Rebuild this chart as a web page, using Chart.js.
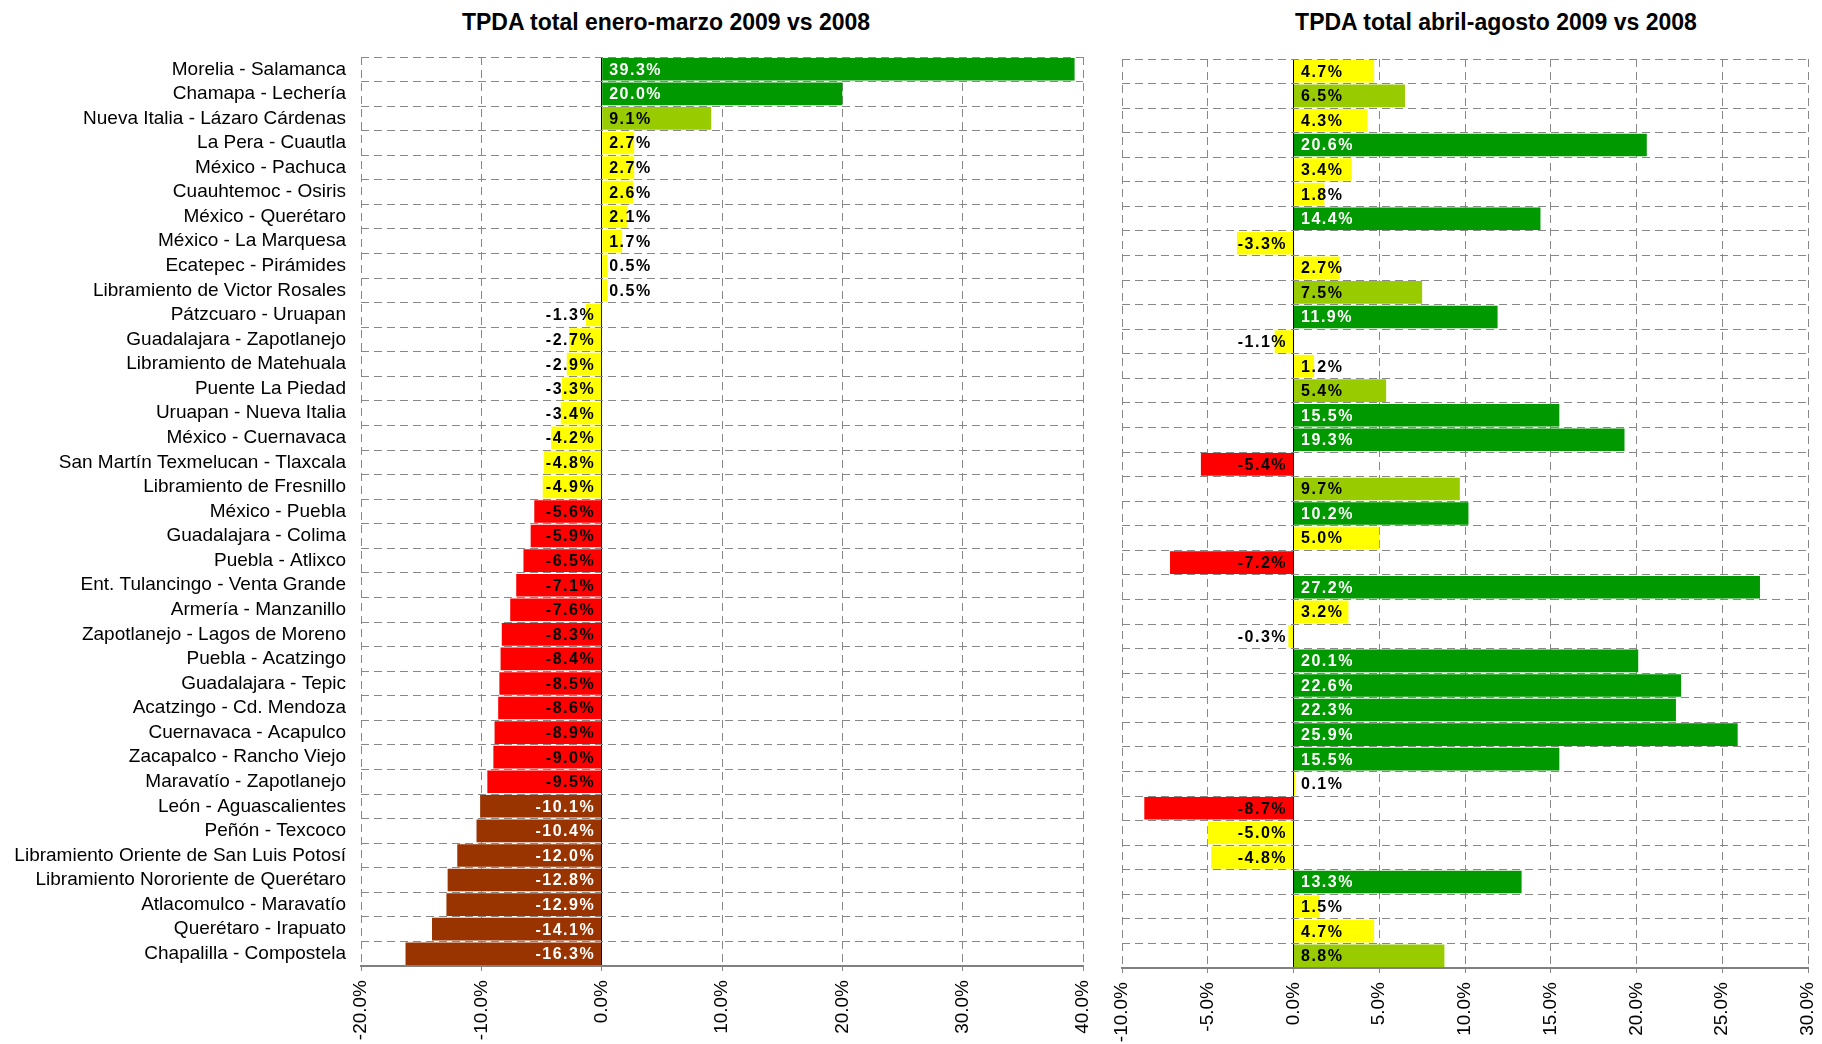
<!DOCTYPE html>
<html>
<head>
<meta charset="utf-8">
<title>TPDA total 2009 vs 2008</title>
<script src="https://cdn.jsdelivr.net/npm/chart.js"></script>
<style>
    body { margin: 0; background: #fff; }
    .page { position: relative; width: 1822px; height: 1044px; overflow: hidden; }
    .title {
        position: absolute; top: 11px; transform: translateX(-50%);
        font: bold 23px "Liberation Sans", Arial, sans-serif; line-height: 23px;
        white-space: nowrap; color: #000;
    }
    .chart-box { position: absolute; top: 0; height: 1044px; }
</style>
</head>
<body>
<div class="page">
    <div class="title" style="left:666px">TPDA total enero-marzo 2009 vs 2008</div>
    <div class="title" style="left:1496px">TPDA total abril-agosto 2009 vs 2008</div>
    <div class="chart-box" style="left:0; width:1100px"><canvas id="chart-left"></canvas></div>
    <div class="chart-box" style="left:1100px; width:722px"><canvas id="chart-right"></canvas></div>
</div>
<script>
const categories = [
    'Morelia - Salamanca', 'Chamapa - Lechería', 'Nueva Italia - Lázaro Cárdenas', 'La Pera - Cuautla',
    'México - Pachuca', 'Cuauhtemoc - Osiris', 'México - Querétaro', 'México - La Marquesa',
    'Ecatepec - Pirámides', 'Libramiento de Victor Rosales', 'Pátzcuaro - Uruapan', 'Guadalajara - Zapotlanejo',
    'Libramiento de Matehuala', 'Puente La Piedad', 'Uruapan - Nueva Italia', 'México - Cuernavaca',
    'San Martín Texmelucan - Tlaxcala', 'Libramiento de Fresnillo', 'México - Puebla', 'Guadalajara - Colima',
    'Puebla - Atlixco', 'Ent. Tulancingo - Venta Grande', 'Armería - Manzanillo', 'Zapotlanejo - Lagos de Moreno',
    'Puebla - Acatzingo', 'Guadalajara - Tepic', 'Acatzingo - Cd. Mendoza', 'Cuernavaca - Acapulco',
    'Zacapalco - Rancho Viejo', 'Maravatío - Zapotlanejo', 'León - Aguascalientes', 'Peñón - Texcoco',
    'Libramiento Oriente de San Luis Potosí', 'Libramiento Nororiente de Querétaro', 'Atlacomulco - Maravatío',
    'Querétaro - Irapuato', 'Chapalilla - Compostela'
];

const eneroMarzo = [
    39.3, 20.0, 9.1, 2.7, 2.7, 2.6, 2.1, 1.7, 0.5, 0.5,
    -1.3, -2.7, -2.9, -3.3, -3.4, -4.2, -4.8, -4.9, -5.6, -5.9,
    -6.5, -7.1, -7.6, -8.3, -8.4, -8.5, -8.6, -8.9, -9.0, -9.5,
    -10.1, -10.4, -12.0, -12.8, -12.9, -14.1, -16.3
];

const abrilAgosto = [
    4.7, 6.5, 4.3, 20.6, 3.4, 1.8, 14.4, -3.3, 2.7, 7.5,
    11.9, -1.1, 1.2, 5.4, 15.5, 19.3, -5.4, 9.7, 10.2, 5.0,
    -7.2, 27.2, 3.2, -0.3, 20.1, 22.6, 22.3, 25.9, 15.5, 0.1,
    -8.7, -5.0, -4.8, 13.3, 1.5, 4.7, 8.8
];

const leftTicks = [-20, -10, 0, 10, 20, 30, 40];
const rightTicks = [-10, -5, 0, 5, 10, 15, 20, 25, 30];

const GRID = '#888888';
const FONT = '"Liberation Sans", Arial, sans-serif';

function barColor(v) {
    if (v >= 10) return '#009900';
    if (v > 5) return '#99CC00';
    if (v >= -5) return '#FFFF00';
    if (v >= -10) return '#FF0000';
    return '#993300';
}

function labelColor(v) {
    return (v >= 10 || v < -10) ? '#FFFFFF' : '#000000';
}

// value labels drawn next to the zero line, inside the bars
const barLabels = {
    id: 'barLabels',
    afterDatasetsDraw(chart) {
        const ctx = chart.ctx;
        const values = chart.data.datasets[0].data;
        ctx.save();
        ctx.font = 'bold 16px ' + FONT;
        ctx.letterSpacing = '1.5px';
        ctx.textBaseline = 'middle';
        chart.getDatasetMeta(0).data.forEach((bar, i) => {
            const v = values[i];
            const text = v.toFixed(1) + '%';
            ctx.fillStyle = labelColor(v);
            if (v >= 0) {
                ctx.textAlign = 'left';
                ctx.fillText(text, bar.base + 7, bar.y + 1);
            } else {
                ctx.textAlign = 'right';
                ctx.fillText(text, bar.base - 6, bar.y + 1);
            }
        });
        ctx.restore();
    }
};

function makeChart(id, values, ticks, cfg) {
    return new Chart(document.getElementById(id), {
        type: 'bar',
        data: {
            labels: categories,
            datasets: [{
                data: values,
                backgroundColor: values.map(barColor),
                borderWidth: 0,
                barPercentage: 0.92,
                categoryPercentage: 1
            }]
        },
        plugins: [barLabels],
        options: {
            indexAxis: 'y',
            responsive: true,
            maintainAspectRatio: false,
            animation: false,
            layout: { padding: { top: cfg.top, right: cfg.right, left: 0, bottom: 0 } },
            plugins: { legend: { display: false }, tooltip: { enabled: false }, title: { display: false } },
            scales: {
                x: {
                    type: 'linear',
                    min: ticks[0],
                    max: ticks[ticks.length - 1],
                    afterBuildTicks: scale => { scale.ticks = ticks.map(v => ({ value: v })); },
                    afterFit: scale => {
                        scale.height = cfg.xHeight;
                        scale.paddingLeft = 0;
                        scale.paddingRight = 0;
                    },
                    ticks: {
                        autoSkip: false,
                        minRotation: 90,
                        maxRotation: 90,
                        padding: 9,
                        color: '#000',
                        font: { family: FONT, size: 19 },
                        callback: v => v.toFixed(1) + '%'
                    },
                    grid: {
                        color: c => (c.tick && c.tick.value === 0) ? '#000000' : GRID,
                        lineWidth: 1,
                        tickLength: 5,
                        tickColor: GRID,
                        tickBorderDash: []
                    },
                    border: {
                        display: true,
                        color: '#808080',
                        width: 2,
                        dash: c => (c.tick && c.tick.value === 0) ? [] : [8, 5]
                    }
                },
                y: {
                    type: 'category',
                    afterFit: scale => { scale.width = cfg.yWidth; },
                    ticks: {
                        display: cfg.showLabels,
                        autoSkip: false,
                        padding: 15,
                        color: '#000',
                        font: { family: FONT, size: 19 }
                    },
                    grid: { color: GRID, lineWidth: 1, drawTicks: false, offset: true },
                    border: { display: false, dash: [8, 5] }
                }
            }
        }
    });
}

document.addEventListener('DOMContentLoaded', () => {
    makeChart('chart-left', eneroMarzo, leftTicks,
        { top: 57, right: 17, yWidth: 361, xHeight: 78, showLabels: true });
    makeChart('chart-right', abrilAgosto, rightTicks,
        { top: 59, right: 14, yWidth: 22, xHeight: 76, showLabels: false });
});
</script>
</body>
</html>
